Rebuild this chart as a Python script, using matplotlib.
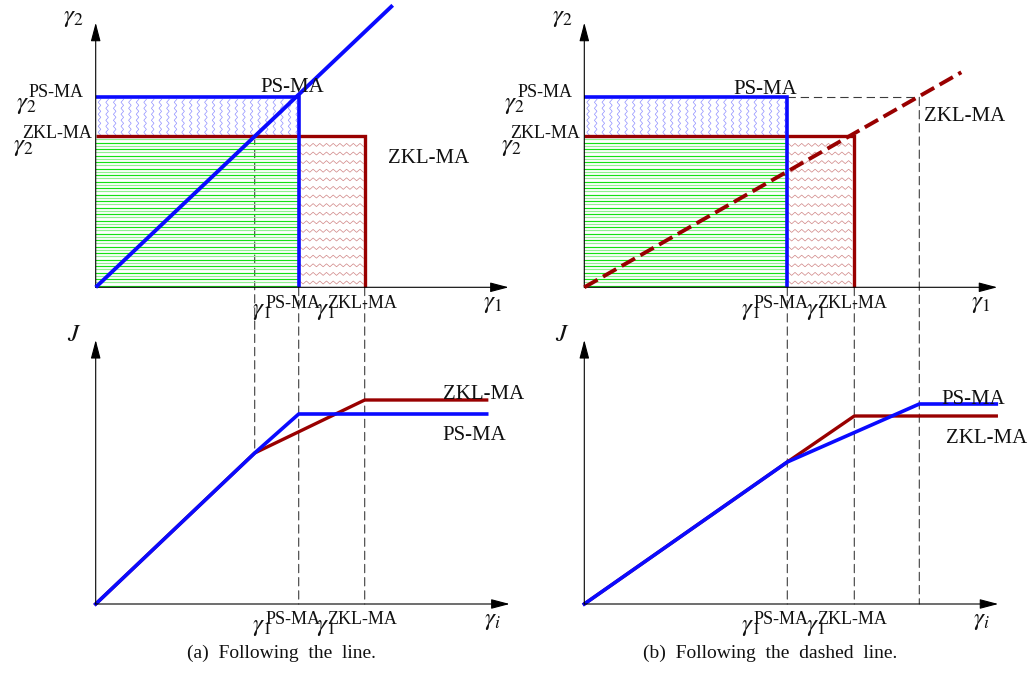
import numpy as np
import matplotlib.pyplot as plt
from matplotlib.patches import ConnectionPatch

plt.rcParams['font.family'] = ['Liberation Serif', 'DejaVu Serif']
plt.rcParams['mathtext.fontset'] = 'stix'
plt.rcParams['lines.scale_dashes'] = False

BLUE = '#0a0aff'
RED = '#990000'
DASH = '#3c3c3c'
MATH = 18

# (a) following the line -- values in picture units from the origin
a_g1_cross = 159
a_g1_ps = 203
a_g1_zkl = 269
a_g2_ps = 190
a_g2_zkl = 151
a_line_x = [0, 297]
a_line_y = [0, 282]
a_J_x_ps = [0, 159, 203, 391]
a_J_ps = [0, 151, 190, 190]
a_J_x_zkl = [0, 159, 269, 391]
a_J_zkl = [0, 151, 204, 204]

# (b) following the dashed line
b_g1_ps = 203
b_g1_zkl = 270
b_g1_dash = 335
b_g2_ps = 190
b_g2_zkl = 151
b_line_x = [0, 377]
b_line_y = [0, 215]
b_J_x_ps = [0, 203, 335, 412]
b_J_ps = [0, 142, 200, 200]
b_J_x_zkl = [0, 203, 270, 412]
b_J_zkl = [0, 142, 188, 188]

captions = ['(a)  Following  the  line.', '(b)  Following  the  dashed  line.']

W, H = 1032, 673
fig = plt.figure(figsize=(W / 100, H / 100), dpi=100)


def make_ax(x0, y0, w, h, ox, oy):
    # box in pixels (top-left), origin of the drawing in pixels, 1 unit = 1 px
    ax = fig.add_axes([x0 / W, 1 - (y0 + h) / H, w / W, h / H])
    ax.set_xlim(x0 - ox, x0 + w - ox)
    ax.set_ylim(oy - (y0 + h), oy - y0)
    ax.axis('off')
    ax.patch.set_visible(False)
    return ax


ax_a = make_ax(0, 0, 516, 330, 95.7, 287.3)
ax_b = make_ax(516, 0, 516, 330, 584.3, 287.3)
ax_c = make_ax(0, 330, 516, 343, 95.7, 604)
ax_d = make_ax(516, 330, 516, 343, 584.3, 604)


def arrows(ax, xmax, ymax):
    props = dict(arrowstyle='-|>,head_length=0.95,head_width=0.25', lw=0.8,
                 color='black', mutation_scale=12, shrinkA=0, shrinkB=0)
    ax.annotate('', xy=(xmax, 0), xytext=(0, 0), arrowprops=props, zorder=4)
    ax.annotate('', xy=(0, ymax), xytext=(0, 0), arrowprops=props, zorder=4)


def label(ax, x, y, s, dx, dy, size=13, ha='left', va='baseline'):
    ax.annotate(s, (x, y), xytext=(dx, dy), textcoords='offset pixels',
                fontsize=size, ha=ha, va=va, color='#111111', zorder=5)


def hatch_green(ax, x1, y1):
    for k, y in enumerate(np.arange(1.6, y1 - 1, 3.25)):
        c = '#14e014' if k % 2 == 0 else '#90f090'
        ax.plot([0, x1], [y, y], color=c, lw=0.85, zorder=1)


def zigzag_cols(ax, x0, x1, y0, y1, gap, period, amp, color):
    ys = np.arange(y0 + 1, y1, period / 2)
    for x in np.arange(x0 + gap / 2, x1 - 1, gap):
        xs = x + amp / 2 * (-1) ** np.arange(len(ys))
        ax.plot(xs, ys, color=color, lw=0.5, zorder=1)


def zigzag_rows(ax, x0, x1, y0, y1, gap, period, amp, color):
    xs = np.arange(x0 + 1, x1, period / 2)
    for y in np.arange(y1 - gap, y0, -gap):
        ys = y + amp / 2 * (-1) ** np.arange(len(xs))
        ax.plot(xs, ys, color=color, lw=0.5, zorder=1)


def dashed_link(ax1, p1, ax2, p2):
    con = ConnectionPatch(xyA=p1, coordsA='data', axesA=ax1, xyB=p2, coordsB='data',
                          axesB=ax2, color=DASH, lw=0.8, linestyle=(0, (6, 3.5)), zorder=-1)
    fig.add_artist(con)


def gamma_labels(ax, x, name, sup_dx, g_dx):
    label(ax, x, 0, name, sup_dx, -20.4, ha='center')
    label(ax, x, 0, r'$\gamma_1$', g_dx, -27.2, size=MATH)


lw_main = dict(solid_joinstyle='miter', solid_capstyle='butt')

# ---- top panels: regions
for ax, g1_ps, g1_zkl, g2_ps, g2_zkl in [(ax_a, a_g1_ps, a_g1_zkl, a_g2_ps, a_g2_zkl),
                                         (ax_b, b_g1_ps, b_g1_zkl, b_g2_ps, b_g2_zkl)]:
    hatch_green(ax, g1_ps, g2_zkl)
    zigzag_cols(ax, 0, g1_ps, g2_zkl, g2_ps, 7.6, 6, 2.6, '#9090ff')
    zigzag_rows(ax, g1_ps, g1_zkl, 0, g2_zkl, 8.6, 6.7, 3, '#d08585')
    ax.plot([0, g1_zkl, g1_zkl], [g2_zkl, g2_zkl, 0], color=RED, lw=2.4, zorder=3, **lw_main)
    ax.plot([0, g1_ps, g1_ps], [g2_ps, g2_ps, 0], color=BLUE, lw=2.6, zorder=3.5, **lw_main)
    arrows(ax, 413, 264.6)
    label(ax, 0, 264.6, r'$\gamma_2$', -22.5, 5, size=MATH, ha='center', va='center')
    label(ax, 413, 0, r'$\gamma_1$', -16.5, -16.5, size=MATH, ha='center', va='center')
    label(ax, 0, g2_ps, r'$\gamma_2$', -80, -11.8, size=MATH)
    label(ax, 0, g2_ps, 'PS-MA', -12, 0.5, ha='right')
    label(ax, 0, g2_zkl, r'$\gamma_2$', -83, -15, size=MATH)
    label(ax, 0, g2_zkl, 'ZKL-MA', -4, -2, ha='right')
    gamma_labels(ax, g1_ps, 'PS-MA', -6, -46.5)
    gamma_labels(ax, g1_zkl, 'ZKL-MA', -2.5, -48.5)

ax_a.plot(a_line_x, a_line_y, color=BLUE, lw=2.8, zorder=4, solid_capstyle='butt')
label(ax_a, a_g1_ps, a_g2_ps, 'PS-MA', -6, 5.7, size=15, ha='center')
label(ax_a, a_g1_zkl, a_g2_zkl, 'ZKL-MA', 23, -27, size=15)

ax_b.plot(b_line_x, b_line_y, color=RED, lw=2.8, zorder=4, linestyle=(0, (11, 4.5)))
ax_b.plot([b_g1_ps, b_g1_dash], [b_g2_ps, b_g2_ps], color=DASH, lw=0.8,
          linestyle=(0, (6, 3.5)), zorder=2)
label(ax_b, b_g1_ps, b_g2_ps, 'PS-MA', -22, 3, size=15, ha='center')
label(ax_b, b_g1_dash, b_g2_ps, 'ZKL-MA', 4.7, -23.7, size=15)

# ---- bottom panels: cost
for ax, xs_z, js_z, xs_p, js_p in [(ax_c, a_J_x_zkl, a_J_zkl, a_J_x_ps, a_J_ps),
                                   (ax_d, b_J_x_zkl, b_J_zkl, b_J_x_ps, b_J_ps)]:
    ax.plot(xs_z, js_z, color=RED, lw=2.4, zorder=3)
    ax.plot(xs_p, js_p, color=BLUE, lw=2.6, zorder=3.5)
    arrows(ax, 414, 264)
    label(ax, 0, 264, r'$J$', -21.7, 5, size=MATH, ha='center', va='center')
    label(ax, 414, 0, r'$\gamma_i$', -17, -17.5, size=MATH, ha='center', va='center')

gamma_labels(ax_c, a_g1_ps, 'PS-MA', -6, -46.5)
gamma_labels(ax_c, a_g1_zkl, 'ZKL-MA', -2.5, -48.5)
gamma_labels(ax_d, b_g1_ps, 'PS-MA', -6, -46.5)
gamma_labels(ax_d, b_g1_zkl, 'ZKL-MA', -2.5, -48.5)

label(ax_c, a_J_x_zkl[-1], a_J_zkl[-1], 'ZKL-MA', -44, 1.3, size=15)
label(ax_c, a_J_x_ps[-1], a_J_ps[-1], 'PS-MA', -44, -26, size=15)
label(ax_d, b_J_x_ps[-1], b_J_ps[-1], 'PS-MA', -55, 0, size=15)
label(ax_d, b_J_x_zkl[-1], b_J_zkl[-1], 'ZKL-MA', -50, -26.7, size=15)

# ---- dashed guides running through both panels
dashed_link(ax_a, (a_g1_cross, a_g2_zkl), ax_c, (a_g1_cross, a_J_ps[1]))
dashed_link(ax_a, (a_g1_ps, 0), ax_c, (a_g1_ps, 0))
dashed_link(ax_a, (a_g1_zkl, 0), ax_c, (a_g1_zkl, 0))
dashed_link(ax_b, (b_g1_ps, 0), ax_d, (b_g1_ps, 0))
dashed_link(ax_b, (b_g1_zkl, 0), ax_d, (b_g1_zkl, 0))
dashed_link(ax_b, (b_g1_dash, b_g2_ps), ax_d, (b_g1_dash, 0))

fig.text(281 / W, 1 - 653 / H, captions[0], ha='center', va='center', fontsize=14, color='#111111')
fig.text(770 / W, 1 - 653 / H, captions[1], ha='center', va='center', fontsize=14, color='#111111')

fig.savefig('out.png', dpi=100)
